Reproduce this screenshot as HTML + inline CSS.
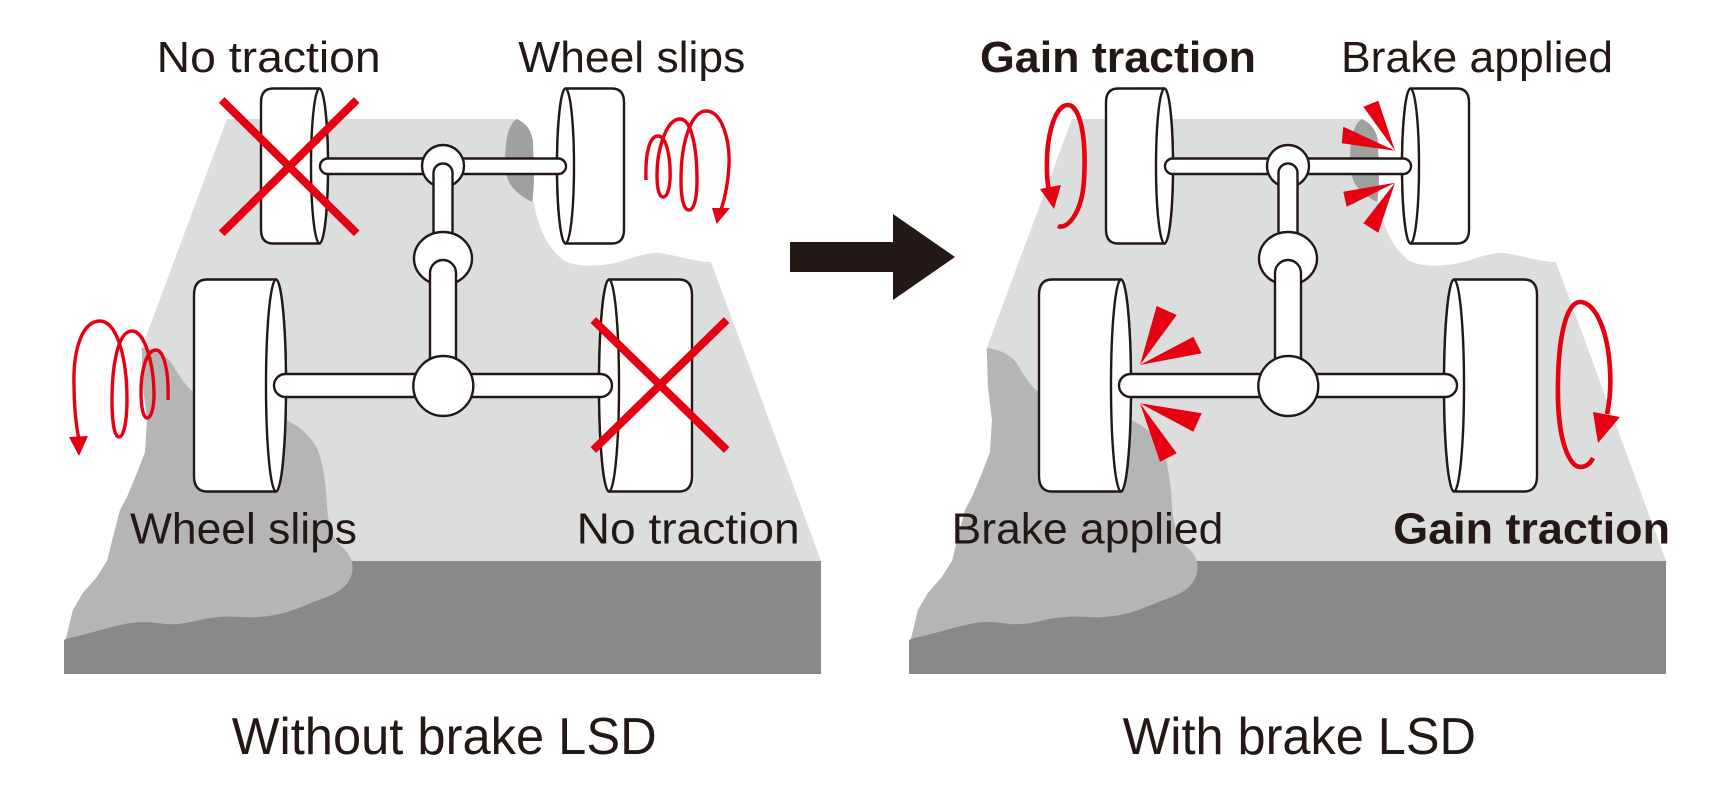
<!DOCTYPE html>
<html>
<head>
<meta charset="utf-8">
<style>
  html,body{margin:0;padding:0;background:#fff;}
  svg{display:block;}
  .lbl{font-family:"Liberation Sans Narrow","Liberation Sans",sans-serif;font-size:44px;fill:#231815;}
  .ttl{font-family:"Liberation Sans Narrow","Liberation Sans",sans-serif;font-size:52px;fill:#231815;}
</style>
</head>
<body>
<svg width="1734" height="792" viewBox="0 0 1734 792" xmlns="http://www.w3.org/2000/svg">
  <defs>
    <g id="ground">
      <!-- light gray plane -->
      <path fill="#dcdddd" d="M227,119 L517,119 L533,140 L533,200 C538,225 545,245 563,260 C575,267 595,267 615,263 C630,259 645,252 660,253 C680,256 695,262 711,262 L821,561 L107,561 L113,537 L120,510 L127,497 L137,473 L145,452 L147,420 L143,387 L141.7,348 Z"/>
      <!-- dark bump -->
      <path fill="#9fa0a0" d="M517,119 C526,123 532,131 533,142 L534,175 C534,188 533,196 532,202 C520,196 509,187 507,176 C504,162 505,145 508,133 C510,126 513,121 517,119 Z"/>
      <!-- band -->
      <path fill="#898989" d="M64,674 L821,674 L821,561 L107,561 L97,577 L83,593 L73,610 L66,639 L64,640 Z"/>
      <!-- medium gray blob -->
      <path fill="#b5b5b6" d="M141.7,348 C150,349 162,352 170,361 C176,369 181,381 192,391 L286,420 C300,426 311,437 317,448 C323,462 326,485 327,505 C328,525 333,540 343,548 C350,554 354,562 352,573 C349,586 338,593 324,598 C310,603 296,610 280,614 C266,617 252,618 240,617 C226,616 212,617 200,620 C188,623 176,625 165,624 C152,622 138,621 125,624 C110,627 88,634 66,639 L73,610 L83,593 L97,577 L107,561 L113,537 L120,510 L127,497 L137,473 L145,452 L147,420 L143,387 Z"/>
    </g>
    <g id="chassis" stroke="#231815" stroke-width="2.4" fill="#fff">
      <!-- wheels -->
      <path d="M273,88.5 L319.5,88.5 A8.5,77.5 0 0 1 319.5,243.5 L273,243.5 Q261,243.5 261,229.5 L261,102.5 Q261,88.5 273,88.5 Z"/>
      <ellipse cx="319.5" cy="166" rx="8.5" ry="77.5"/>
      <path d="M565.5,88.5 L612,88.5 Q624,88.5 624,102.5 L624,229.5 Q624,243.5 612,243.5 L565.5,243.5 A8.5,77.5 0 0 1 565.5,88.5 Z"/>
      <ellipse cx="565.5" cy="166" rx="8.5" ry="77.5"/>
      <path d="M207,279.5 L276,279.5 A10,106 0 0 1 276,491.5 L207,491.5 Q194,491.5 194,476 L194,295 Q194,279.5 207,279.5 Z"/>
      <ellipse cx="276" cy="385.5" rx="10" ry="106"/>
      <path d="M609,279.5 L679,279.5 Q692,279.5 692,295 L692,476 Q692,491.5 679,491.5 L609,491.5 A10,106 0 0 1 609,279.5 Z"/>
      <ellipse cx="609" cy="385.5" rx="10" ry="106"/>
      <!-- axles -->
      <rect x="320" y="158.5" width="246" height="15.5" rx="7.75"/>
      <rect x="274" y="374" width="338" height="23" rx="11.5"/>
      <circle cx="443" cy="166" r="21"/>
      <path d="M433.5,250 L433.5,173 A9.5,9.5 0 0 1 452.5,173 L452.5,250 Z"/>
      <ellipse cx="443" cy="258.5" rx="29" ry="26.5"/>
      <path d="M430,372 L430,273 A13,13 0 0 1 456,273 L456,372 Z"/>
      <circle cx="443.3" cy="386" r="30"/>
    </g>
  </defs>

  <!-- LEFT PANEL -->
  <use href="#ground"/>
  <use href="#chassis"/>

  <!-- red X marks -->
  <g stroke="#e60012" stroke-width="8" stroke-linecap="butt">
    <line x1="221.7" y1="100" x2="356.7" y2="233.3"/>
    <line x1="356.7" y1="100" x2="221.7" y2="233.3"/>
    <line x1="593.3" y1="320" x2="726.7" y2="450"/>
    <line x1="726.7" y1="320" x2="593.3" y2="450"/>
  </g>

  <!-- spirals -->
  <g fill="none" stroke="#e60012" stroke-width="3.4" stroke-linecap="butt">
    <path d="M646,180 C645,152 650,136 658,136 C667,136 671,160 670,180 C669,193 666,197 663,197 C659,197 657,188 657,175 C657,150 666,119 680,119 C692,119 697,150 697,180 C697,202 693,210 689,210 C684,210 681,200 681,180 C681,140 692,111 706,111 C722,111 730,140 729,165 C728,185 725,198 721,210"/>
    <path d="M168,400 C169,372 164,350 156,350 C146,350 141,372 141,392 C141,410 144,418 147,418 C151,418 154,408 154,395 C154,365 145,331 132,331 C118,331 112,365 112,400 C112,425 115,437 119,437 C124,437 127,420 127,400 C127,355 116,321 100,321 C82,321 73,350 74,385 C74,410 76,425 79,440"/>
  </g>
  <g fill="#e60012">
    <polygon points="712,208 730,208 716.7,224"/>
    <polygon points="69,437 88,436 79,456"/>
  </g>

  <!-- labels left -->
  <text class="lbl" x="156.7" y="72" textLength="224" lengthAdjust="spacingAndGlyphs">No traction</text>
  <text class="lbl" x="518.3" y="72" textLength="227" lengthAdjust="spacingAndGlyphs">Wheel slips</text>
  <text class="lbl" x="130" y="543.5" textLength="227" lengthAdjust="spacingAndGlyphs">Wheel slips</text>
  <text class="lbl" x="576.7" y="543.5" textLength="223" lengthAdjust="spacingAndGlyphs">No traction</text>

  <!-- black arrow -->
  <polygon fill="#231815" points="790,242 893,242 893,214 955,257 893,300 893,272 790,272"/>

  <!-- RIGHT PANEL -->
  <g transform="translate(845,0)">
    <use href="#ground"/>
    <use href="#chassis"/>
  </g>

  <!-- rotation arrows -->
  <g fill="none" stroke="#e60012" stroke-width="4.6">
    <path d="M1058,226 C1066,230 1082,215 1084,180 C1087,130 1078,105 1068,105 C1055,105 1046,135 1047,170 C1047,180 1048,188 1050,194"/>
    <path d="M1593,458 C1588,468 1578,470 1572,462 C1562,448 1557,420 1558,380 C1559,330 1568,302 1580,302 C1595,302 1608,330 1610,370 C1611,385 1610,400 1607,414"/>
  </g>
  <g fill="#e60012">
    <polygon points="1040,189 1061,185 1054,209"/>
    <polygon points="1593,412 1620,417 1598,443"/>
    <!-- brake wedges top-right -->
    <polygon points="1395,150.7 1363.3,106.7 1378.3,100.7"/>
    <polygon points="1395,150.7 1343.3,126.7 1341.7,143.3"/>
    <polygon points="1395,182.7 1343.3,191.7 1346.7,206.7"/>
    <polygon points="1395,182.7 1363.3,223.3 1378.3,232.7"/>
    <!-- brake wedges bottom-left -->
    <polygon points="1140,365 1156.7,306 1176.7,315"/>
    <polygon points="1140,365 1193.3,336.7 1201.7,353.3"/>
    <polygon points="1140,403.3 1201.7,413.3 1193.3,431.7"/>
    <polygon points="1140,403.3 1176.7,453.3 1160,461.7"/>
  </g>

  <!-- labels right -->
  <text class="lbl" x="980" y="72" font-weight="bold" textLength="276" lengthAdjust="spacingAndGlyphs">Gain traction</text>
  <text class="lbl" x="1341" y="72" textLength="272" lengthAdjust="spacingAndGlyphs">Brake applied</text>
  <text class="lbl" x="951.7" y="543.5" textLength="271.6" lengthAdjust="spacingAndGlyphs">Brake applied</text>
  <text class="lbl" x="1393.3" y="543.5" font-weight="bold" textLength="276.7" lengthAdjust="spacingAndGlyphs">Gain traction</text>

  <!-- titles -->
  <text class="ttl" x="231.7" y="754" textLength="425" lengthAdjust="spacingAndGlyphs">Without brake LSD</text>
  <text class="ttl" x="1122.6" y="754" textLength="353.4" lengthAdjust="spacingAndGlyphs">With brake LSD</text>
</svg>
</body>
</html>
